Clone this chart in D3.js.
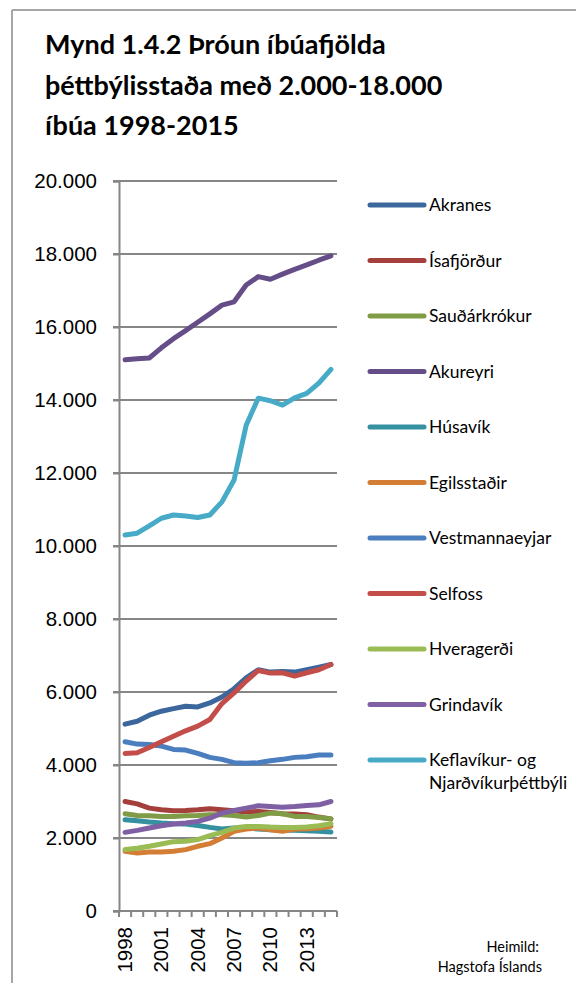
<!DOCTYPE html>
<html><head><meta charset="utf-8">
<script src="https://cdn.jsdelivr.net/npm/d3@7"></script>
<style>
html,body{margin:0;padding:0;background:#fff;}
svg{display:block;}
</style></head>
<body>
<script>
const years = ["1998","1999","2000","2001","2002","2003","2004","2005","2006","2007","2008","2009","2010","2011","2012","2013","2014","2015"];
const yTicks = [0,2000,4000,6000,8000,10000,12000,14000,16000,18000,20000];
const xLabelYears = ["1998","2001","2004","2007","2010","2013"];

const akranes = [5118,5200,5364,5473,5545,5609,5590,5700,5864,6090,6390,6610,6545,6564,6545,6610,6680,6755];
const isafjordur = [3000,2936,2818,2773,2745,2755,2773,2800,2773,2745,2709,2727,2700,2664,2655,2636,2573,2518];
const saudarkrokur = [2664,2618,2609,2591,2591,2609,2618,2636,2636,2618,2573,2618,2682,2664,2591,2591,2564,2527];
const akureyri = [15100,15130,15150,15430,15680,15900,16130,16360,16600,16690,17150,17380,17310,17450,17580,17700,17830,17950];
const husavik = [2500,2473,2436,2409,2391,2382,2345,2291,2245,2273,2273,2245,2227,2209,2209,2200,2182,2164];
const egilsstadir = [1636,1591,1618,1618,1636,1682,1773,1845,2000,2182,2245,2273,2227,2182,2245,2255,2273,2318];
const vestmannaeyjar = [4636,4573,4564,4518,4427,4409,4318,4209,4155,4064,4045,4064,4118,4155,4209,4227,4273,4273];
const selfoss = [4318,4336,4480,4636,4790,4936,5064,5245,5682,5973,6300,6590,6518,6527,6436,6527,6610,6755];
const hveragerdi = [1682,1718,1773,1836,1900,1909,1955,2064,2155,2273,2318,2318,2300,2291,2291,2300,2336,2391];
const grindavik = [2155,2209,2273,2336,2382,2409,2455,2545,2682,2755,2818,2882,2864,2845,2864,2891,2909,3000];
const keflavik = [10300,10350,10550,10760,10850,10820,10780,10850,11210,11810,13310,14050,13980,13860,14060,14180,14460,14840];

const seriesNames = ["Akranes","Ísafjörður","Sauðárkrókur","Akureyri","Húsavík","Egilsstaðir","Vestmannaeyjar","Selfoss","Hveragerði","Grindavík","Keflavíkur- og|Njarðvíkurþéttbýli"];
const seriesValues = [akranes,isafjordur,saudarkrokur,akureyri,husavik,egilsstadir,vestmannaeyjar,selfoss,hveragerdi,grindavik,keflavik];
const seriesColors = ["#3B679C","#A43F3C","#809C47","#654E88","#35909F","#D47D34","#4A7EBF","#C24D49","#99BC55","#7F60A4","#47ABC7"];

const W = 576, H = 985;
const svg = d3.select("body").append("svg").attr("width", W).attr("height", H);

// frame
svg.append("line").attr("x1",12).attr("x2",W).attr("y1",10).attr("y2",10).attr("stroke","#a6a6a6").attr("stroke-width",2);
svg.append("line").attr("x1",12).attr("x2",12).attr("y1",10).attr("y2",983).attr("stroke","#a6a6a6").attr("stroke-width",2);

// title
const titleLines = ["Mynd 1.4.2 Þróun íbúafjölda","þéttbýlisstaða með 2.000-18.000","íbúa 1998-2015"];
svg.append("g").selectAll("text").data(titleLines).join("text")
  .attr("x",45).attr("y",(d,i)=>54+i*40.5)
  .attr("font-family","Lato, 'Open Sans', sans-serif").attr("font-weight","bold")
  .attr("font-size",27).attr("fill","#000").text(d=>d);

const x = d3.scaleBand().domain(years).range([119,337]).paddingInner(0).paddingOuter(0);
const y = d3.scaleLinear().domain([0,20000]).range([911,181]);
const cx = d => x(d) + x.bandwidth()/2;

// gridlines
svg.append("g").selectAll("line").data(yTicks.filter(t=>t>0)).join("line")
  .attr("x1",113).attr("x2",337).attr("y1",d=>y(d)).attr("y2",d=>y(d))
  .attr("stroke","#868686").attr("stroke-width",2);

// y axis
const yAxis = svg.append("g").attr("transform","translate(119,0)")
  .call(d3.axisLeft(y).tickValues(yTicks).tickSize(6).tickPadding(16)
    .tickFormat(d => d3.format(",")(d).replace(/,/g,".")));
yAxis.select(".domain").attr("stroke","#868686").attr("stroke-width",2);
yAxis.selectAll(".tick line").attr("stroke","#868686").attr("stroke-width",2);
yAxis.selectAll(".tick text").attr("font-family","'Liberation Sans', Arial, sans-serif").attr("font-size",20.5).attr("fill","#000");

// x axis with ticks at band boundaries
const xg = svg.append("g").attr("transform","translate(0,911)");
xg.append("line").attr("x1",113).attr("x2",337).attr("y1",0).attr("y2",0).attr("stroke","#868686").attr("stroke-width",2);
const bounds = years.map(d=>x(d)).concat([x(years[years.length-1])+x.bandwidth()]);
xg.selectAll("line.tk").data(bounds).join("line").attr("class","tk")
  .attr("x1",d=>d).attr("x2",d=>d).attr("y1",0).attr("y2",6).attr("stroke","#868686").attr("stroke-width",2);
xg.selectAll("text").data(xLabelYears).join("text")
  .attr("transform",d=>`translate(${cx(d)+7},16) rotate(-90)`)
  .attr("text-anchor","end")
  .attr("font-family","'Liberation Sans', Arial, sans-serif").attr("font-size",20.5).attr("fill","#000")
  .text(d=>d);

// lines
const line = d3.line().x((v,i)=>cx(years[i])).y(v=>y(v)).curve(d3.curveLinear);
svg.append("g").selectAll("path").data(seriesValues).join("path")
  .attr("d",d=>line(d)).attr("fill","none")
  .attr("stroke",(d,i)=>seriesColors[i]).attr("stroke-width",5)
  .attr("stroke-linejoin","round").attr("stroke-linecap","round");

// legend
const lg = svg.append("g");
seriesNames.forEach((name,i)=>{
  const ly = 205 + i*55.5;
  lg.append("line").attr("x1",370).attr("x2",424).attr("y1",ly).attr("y2",ly)
    .attr("stroke",seriesColors[i]).attr("stroke-width",5).attr("stroke-linecap","round");
  const parts = name.split("|");
  const t = lg.append("text").attr("x",429).attr("y",ly+6)
    .attr("font-family","Lato, 'Open Sans', sans-serif").attr("font-size",17.5).attr("fill","#000");
  parts.forEach((p,j)=>{
    t.append("tspan").attr("x",429).attr("dy", j===0?0:23).text(p);
  });
});

// source
svg.append("text").attr("x",539).attr("y",952).attr("text-anchor","end")
  .attr("font-family","Lato, 'Open Sans', sans-serif").attr("font-size",14.5).attr("fill","#000").text("Heimild:");
svg.append("text").attr("x",542).attr("y",972).attr("text-anchor","end")
  .attr("font-family","Lato, 'Open Sans', sans-serif").attr("font-size",14.5).attr("fill","#000").text("Hagstofa Íslands");
</script>
</body></html>
